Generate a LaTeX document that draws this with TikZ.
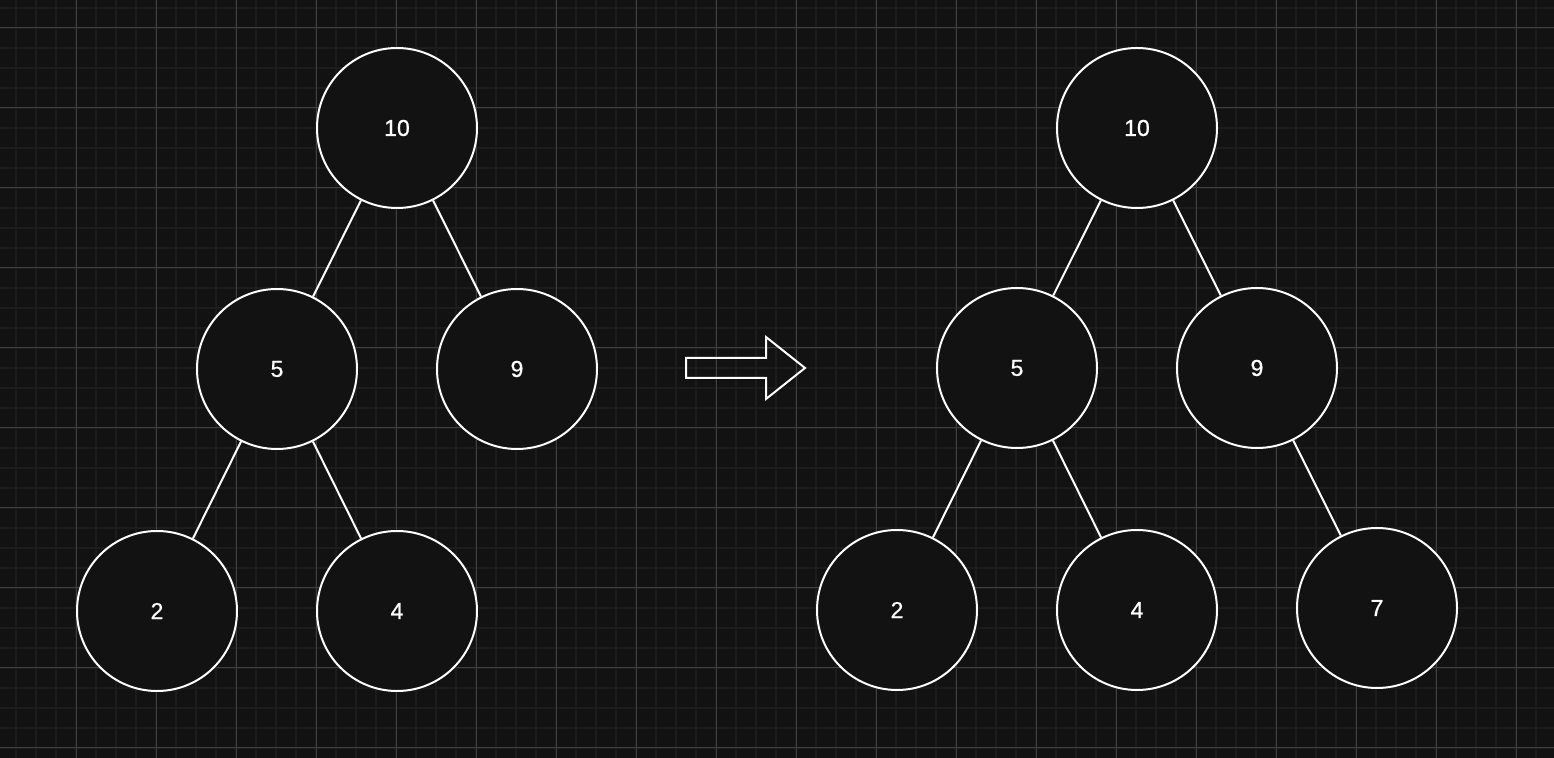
\documentclass[tikz,border=0pt]{standalone}
\usepackage{fontspec}
\setmainfont{Liberation Sans}
\newfontfamily\nodefont[FakeBold=0.8]{Liberation Sans}
\definecolor{bg}{HTML}{121212}
\definecolor{minorgrid}{HTML}{1C1C1C}
\definecolor{majorgrid}{HTML}{404040}
\definecolor{nodefill}{HTML}{121212}
\begin{document}
\begin{tikzpicture}[x=0.5pt,y=-0.5pt,
  heapnode/.style={circle,draw=white,fill=nodefill,line width=1pt,minimum size=80pt,inner sep=0pt,text=white,font=\nodefont\fontsize{11.5}{13}\selectfont},
  edge/.style={draw=white,line width=1pt}]
\fill[bg] (0,0) rectangle (1554,758);
\useasboundingbox (0,0) rectangle (1554,758);
\foreach \x in {16,36,...,1554} \draw[minorgrid,line width=1pt] (\x,0) -- (\x,758);
\foreach \y in {8,28,...,758} \draw[minorgrid,line width=1pt] (0,\y) -- (1554,\y);
\foreach \x in {76,156,...,1554} \draw[majorgrid,line width=0.5pt] (\x,0) -- (\x,758);
\foreach \y in {28,108,...,758} \draw[majorgrid,line width=0.5pt] (0,\y) -- (1554,\y);
% left tree
\node[heapnode] (a10) at (397,128) {10};
\node[heapnode] (a5) at (277,369) {5};
\node[heapnode] (a9) at (517,369) {9};
\node[heapnode] (a2) at (157,611) {2};
\node[heapnode] (a4) at (397,611) {4};
\draw[edge] (a10) -- (a5);
\draw[edge] (a10) -- (a9);
\draw[edge] (a5) -- (a2);
\draw[edge] (a5) -- (a4);
% arrow
\draw[white,line width=1pt,line join=miter] (686,358) -- (766,358) -- (766,337) -- (805,368) -- (766,399) -- (766,378) -- (686,378) -- cycle;
% right tree
\node[heapnode] (b10) at (1137,128) {10};
\node[heapnode] (b5) at (1017,368) {5};
\node[heapnode] (b9) at (1257,368) {9};
\node[heapnode] (b2) at (897,610) {2};
\node[heapnode] (b4) at (1137,610) {4};
\node[heapnode] (b7) at (1377,608) {7};
\draw[edge] (b10) -- (b5);
\draw[edge] (b10) -- (b9);
\draw[edge] (b5) -- (b2);
\draw[edge] (b5) -- (b4);
\draw[edge] (b9) -- (b7);
\end{tikzpicture}
\end{document}
